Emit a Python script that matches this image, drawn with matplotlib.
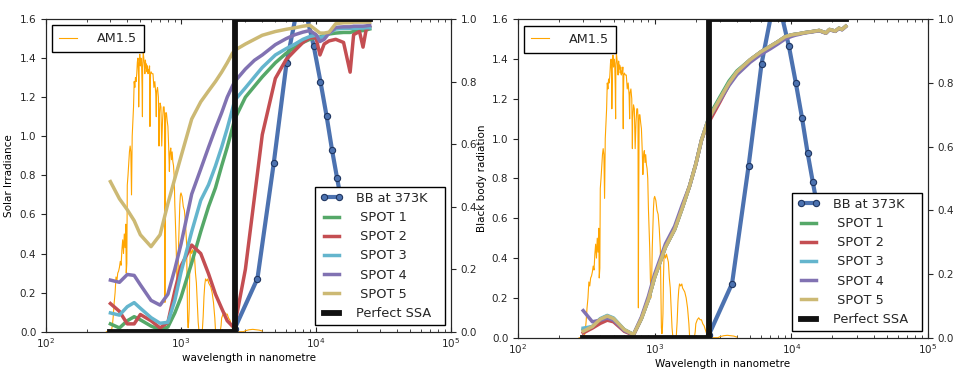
import matplotlib.pyplot as plt

plt.rcParams['font.family'] = 'DejaVu Sans'
plt.rcParams['xtick.direction'] = 'in'
plt.rcParams['ytick.direction'] = 'out'
plt.rcParams['xtick.top'] = True
plt.rcParams['xtick.labelsize'] = 7.5
plt.rcParams['ytick.labelsize'] = 7.5
plt.rcParams['axes.labelsize'] = 7.5
plt.rcParams['text.color'] = '0.15'
plt.rcParams['xtick.color'] = '0.15'
plt.rcParams['ytick.color'] = '0.15'
plt.rcParams['axes.edgecolor'] = '0.15'

# AM1.5 solar spectrum (nm, W/m2/nm)
am_wl = [280, 300, 305, 310, 315, 320, 325, 330, 335, 340, 345, 350, 355, 360, 365,
         370, 375, 380, 385, 390, 393, 397, 400, 405, 410, 415, 420, 425, 430, 435,
         440, 445, 450, 455, 460, 465, 470, 475, 480, 485, 486, 490, 495, 500, 505, 510,
         515, 518, 520, 525, 530, 535, 540, 545, 550, 555, 560, 565, 570, 575, 580, 585,
         589, 590, 595, 600, 610, 620, 630, 640, 650, 656, 660, 670, 680, 687, 690, 700,
         710, 720, 730, 740, 750, 755, 760, 763, 770, 780, 790, 800, 810, 820, 825,
         830, 840, 850, 860, 870, 880, 890, 900, 910, 920, 930, 940, 950, 960, 970,
         980, 990, 1000, 1020, 1040, 1060, 1080, 1100, 1110, 1120, 1130, 1140, 1150,
         1160, 1170, 1180, 1200, 1220, 1240, 1260, 1280, 1300, 1320, 1340, 1360, 1400,
         1440, 1460, 1480, 1500, 1520, 1550, 1580, 1600, 1630, 1660, 1700, 1740, 1780,
         1800, 1850, 1950, 1980, 2000, 2050, 2100, 2150, 2200, 2250, 2300, 2350, 2400,
         2450, 2500, 2600, 2900, 3000, 3200, 3400, 3600, 3800, 4000]
am_irr = [0.0, 0.0, 0.005, 0.03, 0.08, 0.15, 0.2, 0.28, 0.26, 0.30, 0.31, 0.33, 0.36, 0.34, 0.42,
          0.47, 0.40, 0.50, 0.43, 0.55, 0.30, 0.35, 0.75, 0.80, 0.86, 0.92, 0.95, 0.92, 0.70, 1.00,
          1.08, 1.15, 1.28, 1.25, 1.30, 1.28, 1.32, 1.38, 1.40, 1.30, 1.15, 1.37, 1.42, 1.36, 1.40, 1.38,
          1.25, 1.10, 1.35, 1.43, 1.40, 1.37, 1.32, 1.39, 1.35, 1.37, 1.33, 1.36, 1.32, 1.34, 1.33, 1.36,
          1.05, 1.20, 1.32, 1.33, 1.32, 1.32, 1.25, 1.28, 1.22, 1.10, 1.23, 1.25, 1.20, 0.95, 1.10, 1.17,
          1.15, 0.95, 1.08, 1.15, 1.15, 1.10, 0.15, 0.60, 1.12, 1.12, 1.08, 1.05, 0.95, 0.82, 0.88,
          0.92, 0.94, 0.88, 0.92, 0.87, 0.85, 0.80, 0.65, 0.55, 0.45, 0.30, 0.20, 0.28, 0.45, 0.55,
          0.65, 0.70, 0.71, 0.69, 0.64, 0.62, 0.55, 0.45, 0.25, 0.05, 0.02, 0.05, 0.12,
          0.30, 0.40, 0.42, 0.40, 0.42, 0.40, 0.38, 0.30, 0.25, 0.15, 0.05, 0.0, 0.0,
          0.01, 0.08, 0.18, 0.24, 0.27, 0.26, 0.27, 0.25, 0.24, 0.23, 0.20, 0.15, 0.07,
          0.01, 0.0, 0.0, 0.03, 0.07, 0.09, 0.10, 0.09, 0.09, 0.07, 0.06, 0.04, 0.02,
          0.01, 0.0, 0.0, 0.0, 0.005, 0.01, 0.012, 0.01, 0.008, 0.003]

# black body at 373 K, normalised
bb_wl = [2500, 3684, 4868, 6053, 7237, 8421, 9605, 10789, 11974, 13158, 14342, 15526,
         16711, 17895, 19079, 20263, 21447, 22632, 23816, 25000]
bb_val = [0.01, 0.17, 0.54, 0.86, 1.03, 1.02, 0.915, 0.80, 0.69, 0.58, 0.49, 0.41,
          0.35, 0.29, 0.25, 0.21, 0.18, 0.16, 0.14, 0.12]

# perfect spectrally selective absorber
ssa_wl = [300, 2500, 2500, 25000]
ssa_val = [0, 0, 1, 1]

spot_wl = [300, 350, 400, 450, 500, 600, 700, 800, 900, 1000, 1200, 1400, 1600, 1800,
           2000, 2200, 2400, 2500, 3000, 3500, 4000, 5000, 6000, 7000, 8000, 9000, 10000,
           10700, 11500, 12500, 14000, 16000, 17900, 19000, 21000, 22300, 23500, 25000]

# left panel
spot1_a = [0.025, 0.012, 0.035, 0.048, 0.038, 0.018, 0.006, 0.015, 0.06, 0.11, 0.22, 0.32, 0.40, 0.46,
           0.53, 0.59, 0.65, 0.68, 0.75, 0.785, 0.815, 0.86, 0.89, 0.91, 0.925, 0.935, 0.94,
           0.942, 0.948, 0.952, 0.955, 0.957, 0.957, 0.96, 0.962, 0.963, 0.965, 0.968]
spot2_a = [0.09, 0.065, 0.025, 0.025, 0.055, 0.035, 0.012, 0.03, 0.13, 0.21, 0.277, 0.25, 0.185, 0.12,
           0.075, 0.035, 0.018, 0.02, 0.2, 0.43, 0.63, 0.81, 0.87, 0.90, 0.925, 0.94, 0.94,
           0.885, 0.92, 0.93, 0.935, 0.925, 0.83, 0.95, 0.96, 0.91, 0.965, 0.975]
spot3_a = [0.06, 0.053, 0.08, 0.093, 0.075, 0.045, 0.027, 0.03, 0.10, 0.19, 0.32, 0.42, 0.47, 0.53,
           0.59, 0.65, 0.71, 0.74, 0.78, 0.815, 0.845, 0.885, 0.905, 0.92, 0.935, 0.944, 0.948,
           0.94, 0.945, 0.955, 0.968, 0.97, 0.97, 0.97, 0.971, 0.971, 0.972, 0.972]
spot4_a = [0.165, 0.158, 0.183, 0.18, 0.15, 0.10, 0.085, 0.12, 0.20, 0.28, 0.44, 0.52, 0.59, 0.65,
           0.70, 0.75, 0.785, 0.80, 0.84, 0.868, 0.885, 0.918, 0.937, 0.95, 0.958, 0.963, 0.95,
           0.928, 0.935, 0.955, 0.973, 0.975, 0.975, 0.977, 0.977, 0.977, 0.978, 0.98]
spot5_a = [0.48, 0.425, 0.39, 0.355, 0.31, 0.272, 0.31, 0.41, 0.49, 0.56, 0.68, 0.735, 0.77, 0.80,
           0.83, 0.86, 0.89, 0.90, 0.92, 0.935, 0.948, 0.96, 0.967, 0.972, 0.977, 0.98, 0.965,
           0.955, 0.955, 0.958, 0.985, 0.988, 0.988, 0.99, 0.99, 0.99, 0.99, 0.99]

# right panel
spot1_b = [0.025, 0.035, 0.058, 0.068, 0.06, 0.025, 0.01, 0.06, 0.12, 0.19, 0.285, 0.34, 0.41, 0.476,
           0.545, 0.62, 0.67, 0.696, 0.756, 0.806, 0.838, 0.873, 0.898, 0.915, 0.93, 0.945, 0.951,
           0.953, 0.955, 0.958, 0.961, 0.965, 0.957, 0.968, 0.963, 0.972, 0.968, 0.978]
spot2_b = [0.015, 0.03, 0.045, 0.055, 0.05, 0.02, 0.008, 0.06, 0.12, 0.19, 0.285, 0.34, 0.41, 0.476,
           0.545, 0.62, 0.665, 0.678, 0.74, 0.795, 0.833, 0.873, 0.898, 0.915, 0.93, 0.945, 0.951,
           0.953, 0.955, 0.958, 0.961, 0.965, 0.957, 0.968, 0.963, 0.972, 0.968, 0.978]
spot3_b = [0.03, 0.035, 0.06, 0.07, 0.062, 0.025, 0.01, 0.06, 0.12, 0.19, 0.285, 0.34, 0.41, 0.476,
           0.545, 0.62, 0.67, 0.69, 0.75, 0.80, 0.835, 0.873, 0.898, 0.915, 0.93, 0.945, 0.951,
           0.953, 0.955, 0.958, 0.961, 0.965, 0.957, 0.968, 0.963, 0.972, 0.968, 0.978]
spot4_b = [0.085, 0.05, 0.055, 0.062, 0.055, 0.022, 0.01, 0.065, 0.13, 0.20, 0.295, 0.35, 0.42, 0.476,
           0.545, 0.62, 0.67, 0.69, 0.745, 0.792, 0.826, 0.865, 0.89, 0.907, 0.923, 0.938, 0.946,
           0.95, 0.953, 0.957, 0.96, 0.964, 0.956, 0.967, 0.962, 0.971, 0.967, 0.977]
spot5_b = [0.02, 0.035, 0.058, 0.068, 0.06, 0.025, 0.01, 0.06, 0.12, 0.19, 0.285, 0.34, 0.41, 0.476,
           0.545, 0.62, 0.67, 0.69, 0.75, 0.80, 0.835, 0.873, 0.898, 0.915, 0.93, 0.945, 0.951,
           0.953, 0.955, 0.958, 0.961, 0.965, 0.957, 0.968, 0.963, 0.972, 0.968, 0.978]

spot_labels = [' SPOT 1', ' SPOT 2', ' SPOT 3', ' SPOT 4', ' SPOT 5']
spot_colors = ['#55A868', '#C44E52', '#64B5CD', '#8172B2', '#CCB974']
panels = [
    ([46, 331.7, 451, 19], [spot1_a, spot2_a, spot3_a, spot4_a, spot5_a], 'wavelength in nanometre', 'Solar Irradiance'),
    ([518, 337.7, 928, 19.3], [spot1_b, spot2_b, spot3_b, spot4_b, spot5_b], 'Wavelength in nanometre', 'Black body radiation'),
]

W, H = 959, 369
fig = plt.figure(figsize=(W / 100, H / 100), dpi=100)

for k, (box, spots, xlab, ylab) in enumerate(panels):
    x0, y0, x1, y1 = box
    ax1 = fig.add_axes([x0 / W, 1 - y0 / H, (x1 - x0) / W, (y0 - y1) / H])
    ax1.plot(am_wl, am_irr, color='orange', lw=0.8, label='AM1.5')
    ax1.set_xscale('log')
    ax1.set_xlim(1e2, 1e5)
    ax1.set_ylim(0, 1.6)
    ax1.set_xlabel(xlab, labelpad=2)
    ax1.set_ylabel(ylab)
    if k == 1:
        ax1.yaxis.set_label_coords(-0.076, 0.5)
    leg1 = ax1.legend(loc='upper left', fontsize=9.2, fancybox=False, handlelength=1.4,
                      handletextpad=1.5, borderpad=0.55)
    leg1.get_frame().set_edgecolor('black')
    leg1.get_frame().set_alpha(1)

    ax2 = ax1.twinx()
    ax2.plot(bb_wl, bb_val, color='#4C72B0', lw=3, marker='o', markersize=4.5,
             markeredgecolor='#1f3560', markeredgewidth=0.8, label='BB at 373K')
    for vals, lab, col in zip(spots, spot_labels, spot_colors):
        ax2.plot(spot_wl, vals, color=col, lw=2.5, label=lab)
    ax2.plot(ssa_wl, ssa_val, color='#111111', lw=4.2, label='Perfect SSA  ')
    ax2.set_ylim(0, 1.0)
    ax2.set_xlim(1e2, 1e5)
    if k == 1:
        ax2.set_ylabel('Black body radiation')
    leg2 = ax2.legend(loc='lower right', fontsize=9.3, fancybox=False, numpoints=2,
                      handlelength=1.8, handletextpad=1.0, labelspacing=0.48)
    leg2.get_frame().set_edgecolor('black')
    leg2.get_frame().set_alpha(1)

fig.savefig('out.png', dpi=100)
